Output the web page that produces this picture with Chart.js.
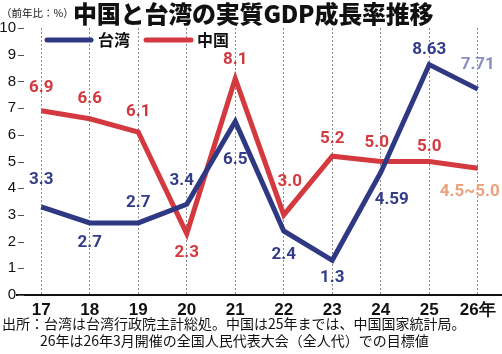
<!DOCTYPE html>
<html><head><meta charset="utf-8">
<script src="https://cdn.jsdelivr.net/npm/chart.js@4.4.1/dist/chart.umd.min.js"></script>
<style>
html,body{margin:0;padding:0;background:#fff;}
#wrap{position:relative;width:502px;height:354px;overflow:hidden;}
canvas{position:absolute;left:0;top:0;}
.t{position:absolute;white-space:nowrap;font-family:"Noto Sans CJK JP",sans-serif;color:#111;}
#unit{left:1px;top:5px;font-size:10.5px;line-height:16px;}
#title{left:73px;top:-2px;font-size:24px;font-weight:900;line-height:30px;letter-spacing:-0.2px;}
#n1{left:2px;top:314px;font-size:14px;line-height:18px;}
#n2{left:40px;top:331px;font-size:14px;line-height:18px;}
</style></head>
<body><div id="wrap">
<canvas id="c" width="502" height="354"></canvas>
<div class="t" id="unit">（前年比：%）</div>
<div class="t" id="title">中国と台湾の実質GDP成長率推移</div>
<div class="t" id="n1">出所：台湾は台湾行政院主計総処。中国は25年までは、中国国家統計局。</div>
<div class="t" id="n2">26年は26年3月開催の全国人民代表大会（全人代）での目標値</div>
</div>
<script>
const years = ['17','18','19','20','21','22','23','24','25','26年'];
const yTicks = [0,1,2,3,4,5,6,7,8,9,10];
const taiwan = [3.3, 2.7, 2.7, 3.4, 6.5, 2.4, 1.3, 4.59, 8.63, 7.71];
const china  = [6.9, 6.6, 6.1, 2.3, 8.1, 3.0, 5.2, 5.0, 5.0, 4.75];
const taiwanLabels = ['3.3','2.7','2.7','3.4','6.5','2.4','1.3','4.59','8.63','7.71'];
const chinaLabels  = ['6.9','6.6','6.1','2.3','8.1','3.0','5.2','5.0','5.0','4.5~5.0'];

const NAVY = '#2e3883', RED = '#d4393f';
const twLabelColors = ['#323c88','#323c88','#323c88','#323c88','#323c88','#323c88','#323c88','#323c88','#323c88','#8a8fc2'];
const cnLabelColors = [RED,RED,RED,RED,RED,RED,RED,RED,RED,'#eba27e'];
const twOffsets = [[0,-27],[0,20],[0,-20],[-5,-23],[0,38],[0,24],[0,17],[11,27],[0,-15],[0,-24]];
const cnOffsets = [[0,-23],[0,-20],[0,-20],[0,19],[0,-19],[6,-33],[0,-17],[-4,-19],[0,-15],[-8,24]];

const extras = {
  id:'extras',
  afterDraw(chart){
    const ctx = chart.ctx, a = chart.chartArea, ys = chart.scales.y;
    ctx.save();
    ctx.strokeStyle = '#555'; ctx.lineWidth = 1;
    yTicks.forEach(v=>{
      const y = Math.round(ys.getPixelForValue(v))+0.5;
      ctx.beginPath(); ctx.moveTo(a.left+1,y); ctx.lineTo(a.left+7,y); ctx.stroke();
    });
    const leg = [[45,93,98,'台湾',NAVY],[144,193,197,'中国',RED]];
    leg.forEach(([x1,x2,tx,txt,col])=>{
      ctx.strokeStyle = col; ctx.lineWidth = 5; ctx.lineCap='round';
      ctx.beginPath(); ctx.moveTo(x1+2,40); ctx.lineTo(x2-2,40); ctx.stroke();
      ctx.fillStyle = '#111'; ctx.font = 'bold 16px "Noto Sans CJK JP"';
      ctx.textAlign='left'; ctx.textBaseline='middle';
      ctx.fillText(txt, tx, 40);
    });
    ctx.font = 'bold 17px Roboto';
    ctx.textAlign='center'; ctx.textBaseline='middle';
    const sets = [[0,taiwanLabels,twLabelColors,twOffsets],[1,chinaLabels,cnLabelColors,cnOffsets]];
    sets.forEach(([di,labs,cols,offs])=>{
      chart.getDatasetMeta(di).data.forEach((pt,i)=>{
        ctx.fillStyle = cols[i];
        ctx.fillText(labs[i], pt.x+offs[i][0], pt.y+offs[i][1]);
      });
    });
    ctx.restore();
  }
};

new Chart(document.getElementById('c'), {
  type:'line',
  data:{
    labels: years,
    datasets:[
      {label:'台湾', data: taiwan, borderColor: NAVY, borderWidth:5, pointRadius:0, tension:0, borderJoinStyle:'miter'},
      {label:'中国', data: china, borderColor: RED, borderWidth:5, pointRadius:0, tension:0, borderJoinStyle:'miter'}
    ]
  },
  options:{
    responsive:false, animation:false, devicePixelRatio:1,
    layout:{padding:{top:28,left:0,right:0,bottom:0}},
    plugins:{legend:{display:false}, tooltip:{enabled:false}},
    scales:{
      x:{
        offset:true,
        grid:{offset:false, color:'#8a8a8a', lineWidth:1, drawTicks:false},
        border:{display:true, color:'#111', width:2, dash:[2,2]},
        ticks:{color:'#111', font:{family:'Liberation Sans', size:17, weight:'bold'}, padding:5, maxRotation:0, autoSkip:false},
        afterFit(s){ s.height = 59; }
      },
      y:{
        min:0, max:10,
        afterBuildTicks(s){ s.ticks = yTicks.map(v=>({value:v})); },
        grid:{display:false, drawTicks:false},
        border:{display:false},
        ticks:{color:'#111', font:{family:'Liberation Sans', size:15}, padding:1},
        afterFit(s){ s.width = 17; }
      }
    }
  },
  plugins:[extras]
});
</script>
</body></html>
